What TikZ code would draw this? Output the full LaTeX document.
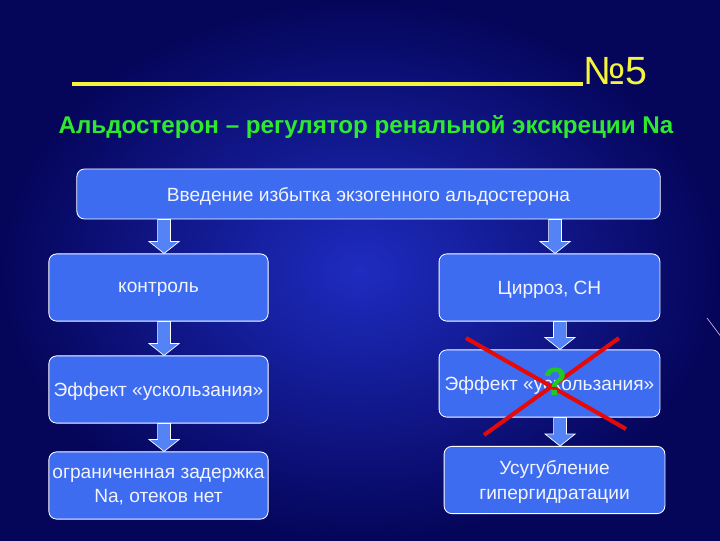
\documentclass[tikz,border=0pt]{standalone}
\usepackage{fontspec}
\setmainfont{Liberation Sans}
\usetikzlibrary{calc}
\definecolor{bgDeep}{HTML}{05055A}
\definecolor{bgGlow}{HTML}{1E2CC0}
\definecolor{boxFill}{HTML}{3D6CF0}
\definecolor{arrowFill}{HTML}{5383F5}
\definecolor{paleText}{HTML}{F2F4FF}
\definecolor{ruleYellow}{HTML}{F4F43C}
\definecolor{headGreen}{HTML}{2EEA2E}
\definecolor{crossRed}{HTML}{E50A0A}
\definecolor{qGreen}{HTML}{22C822}
\definecolor{streak}{HTML}{C8A8E8}

\begin{document}
\begin{tikzpicture}[
  x=0.025cm, y=-0.025cm,
  box/.style={rounded corners=5.5pt, draw=white, line width=0.6pt, fill=boxFill,
              text=paleText, align=center, inner sep=1pt, text depth=0pt,
              font=\fontsize{13.6}{17.5}\selectfont,
              minimum width=5.48cm, minimum height=1.68cm},
  wide/.style={box, minimum width=14.58cm, minimum height=1.25cm},
  barrow/.style={draw=white, fill=arrowFill, line width=0.5pt,
    to path={let \p1=(\tikztostart), \p2=(\tikztotarget) in
      (\x2-4.6pt,\y1) -- (\x2-4.6pt,\y2+8.5pt) -- (\x2-10.7pt,\y2+8.5pt) -- (\x2,\y2)
      -- (\x2+10.7pt,\y2+8.5pt) -- (\x2+4.6pt,\y2+8.5pt) -- (\x2+4.6pt,\y1) -- cycle}},
  cross/.style={draw=crossRed, line width=2.9pt},
  heading/.style={text=headGreen, font=\fontsize{17.2}{20}\selectfont\bfseries},
]

% ---------------- BACKGROUND ----------------
\shade[inner color=bgGlow, outer color=bgDeep] (0,0) rectangle (720,540);
\useasboundingbox (0,0) rectangle (720,540);
\draw[streak, line width=0.5pt] (707,318) -- (722,338);

% ---------------- TITLE ----------------
\node[text=ruleYellow, font=\fontsize{28}{30}\selectfont, inner sep=0pt, anchor=base west]
  (NUM) at (583,84) {№5};
\coordinate (ruleStart) at (72,84);
\draw[ruleYellow, line width=2.4pt] (ruleStart) -- (NUM.base west);
\node[heading] (HEAD) at (366,127) {Альдостерон – регулятор ренальной экскреции Na};

% ---------------- NODES (absolute grid) ----------------
\node[wide] (INTRO) at (368.5,194) {Введение избытка экзогенного альдостерона};

\node[box] (CTRL)  at (158.5,287.5) {контроль};
\node[box] (ESCL)  at (158.5,389.5) {Эффект «ускользания»};
\node[box] (LIMIT) at (158.5,485.5) {ограниченная задержка\\Na, отеков нет};

\node[box, minimum width=5.52cm] (CIRR)  at (549.5,287.5) {Цирроз, СН};
\node[box, minimum width=5.52cm] (ESCR)  at (549.5,383.5) {Эффект «ускользания»};
\node[box, minimum width=5.52cm] (WORSE) at (554.5,480) {Усугубление\\гипергидратации};

% ---------------- EDGES ----------------
\draw[barrow] (INTRO.south) to ([xshift=0.14cm]CTRL.north);
\draw[barrow] (INTRO.south) to ([xshift=0.14cm]CIRR.north);
\draw[barrow] (CTRL.south) to ([xshift=0.14cm]ESCL.north);
\draw[barrow] (ESCL.south) to ([xshift=0.14cm]LIMIT.north);
\draw[barrow] (CIRR.south) to ([xshift=0.26cm]ESCR.north);
\draw[barrow] (ESCR.south) to ([xshift=0.14cm]WORSE.north);

% ---------------- CROSS-OUT ----------------
\coordinate (xa1) at (466,338);
\coordinate (xa2) at (626,429);
\coordinate (xb1) at (619,338);
\coordinate (xb2) at (484,435);
\draw[cross] (xa1) -- (xa2);
\draw[cross] (xb1) -- (xb2);
\node[text=qGreen, font=\fontsize{28}{30}\selectfont\bfseries, inner sep=0pt] (QM) at (556,382) {?};
\end{tikzpicture}
\end{document}
